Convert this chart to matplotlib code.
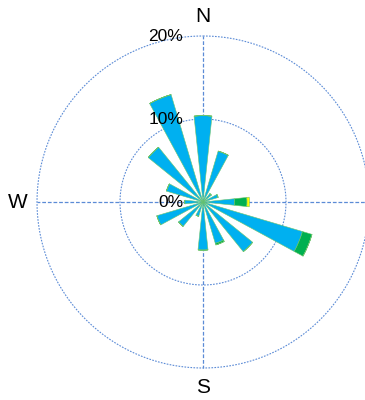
import numpy as np
import matplotlib.pyplot as plt
import matplotlib.transforms as mtransforms

plt.rcParams['font.family'] = ['Liberation Sans', 'DejaVu Sans']

# Wind rose: 16 compass sectors, frequency (%) per speed class
directions = ["N", "NNE", "NE", "ENE", "E", "ESE", "SE", "SSE",
              "S", "SSW", "SW", "WSW", "W", "WNW", "NW", "NNW"]
freq_low = [10.4, 6.4, 1.3, 1.9, 3.8, 12.5, 7.7, 5.2,
            5.8, 1.8, 3.8, 5.8, 2.2, 4.6, 8.5, 13.5]
freq_mid = [0, 0, 0, 0, 1.5, 1.2, 0, 0.2,
            0, 0, 0, 0, 0, 0, 0, 0]
freq_high = [0, 0, 0, 0, 0.3, 0, 0, 0,
             0, 0, 0, 0, 0, 0, 0, 0]
ring_values = [0, 10, 20]
cardinals = {"N": 0, "W": 270, "S": 180}

colors = ["#00B0F0", "#00B050", "#FFFF00"]
grid_color = "#5B8BD6"

fig = plt.figure(figsize=(3.65, 4.0), dpi=100)
ax = fig.add_axes([0.1014, 0.08, 0.9096, 0.83], projection="polar")
ax.set_theta_zero_location("N")
ax.set_theta_direction(-1)
ax.set_ylim(0, 20)
ax.grid(False)
ax.set_xticks([])
ax.set_yticks([])
ax.spines["polar"].set_visible(False)
ax.patch.set_alpha(0)

n = len(directions)
theta = np.deg2rad(np.arange(n) * 360 / n)
width = np.deg2rad(360 / n) * 0.53

# dashed rings and cross lines
t = np.linspace(0, 2 * np.pi, 400)
for r in ring_values[1:]:
    ax.plot(t, np.full_like(t, r), color=grid_color, lw=0.8,
            dashes=(1.5, 1.2), zorder=1, clip_on=False)
for ang in [0, 90, 180, 270]:
    ax.plot([np.deg2rad(ang)] * 2, [0, 20], color=grid_color, lw=0.9,
            dashes=(3, 1.5), zorder=1, clip_on=False)

# stacked bars
bottom = np.zeros(n)
for vals, c in zip([freq_low, freq_mid, freq_high], colors):
    vals = np.array(vals)
    ax.bar(theta, vals, width=width, bottom=bottom, color=c,
           edgecolor="#6CC46C", linewidth=0.4, zorder=2)
    bottom += vals

# percentage labels along the north axis
offset = mtransforms.offset_copy(ax.transData, fig=fig, x=-20, y=0, units="dots")
for r in ring_values:
    ax.text(0, r, f"{r}%", transform=offset, ha="right", va="center",
            fontsize=12.5, color="black", zorder=5)

for name, ang in cardinals.items():
    ax.text(np.deg2rad(ang), 22.3, name, ha="center", va="center",
            fontsize=15, color="black", clip_on=False)

fig.savefig("out.png", dpi=100)
